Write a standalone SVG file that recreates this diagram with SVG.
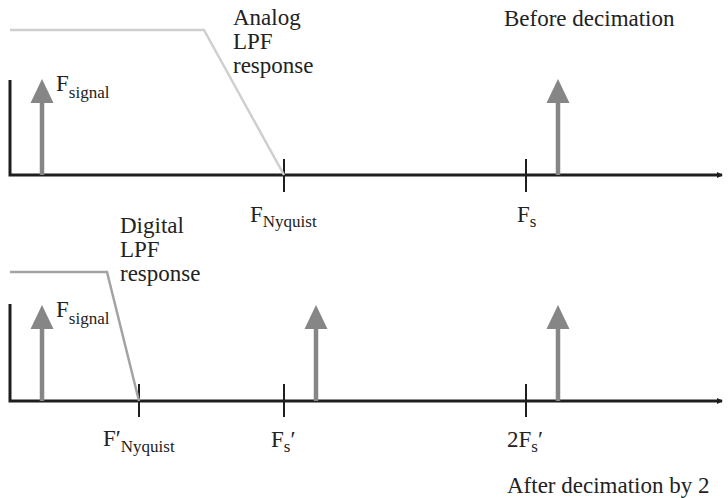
<svg xmlns="http://www.w3.org/2000/svg" width="728" height="498" viewBox="0 0 728 498">
  <defs>
    <marker id="axisHead" markerWidth="6" markerHeight="6" refX="5" refY="3" orient="auto" markerUnits="userSpaceOnUse">
      <path d="M0,0 L6,3 L0,6 Z" fill="#1e1e1e"/>
    </marker>
    <style>
      .axis { stroke: #1e1e1e; stroke-width: 3; fill: none; }
      .tick { stroke: #1e1e1e; stroke-width: 2; }
      .shaft { stroke: #868686; stroke-width: 4.5; }
      .head { fill: #868686; }
      .lpf-analog { stroke: #cfcfcf; stroke-width: 2.5; fill: none; }
      .lpf-digital { stroke: #a3a3a3; stroke-width: 2.5; fill: none; }
      .lbl { fill: #222; font-size: 23px; }
      .sub { font-size: 17px; }
    </style>
  </defs>

  <!-- Upper spectrum: before decimation -->
  <g id="top-axes">
    <polyline class="axis" points="10,80 10,175 722,175" marker-end="url(#axisHead)"/>
    <line class="tick" x1="284" y1="159" x2="284" y2="192"/>
    <line class="tick" x1="526" y1="159" x2="526" y2="192"/>
  </g>
  <g id="top-lpf">
    <polyline class="lpf-analog" points="10,30 204,30 284,175"/>
  </g>
  <g id="top-signal">
    <line class="shaft" x1="42" y1="175" x2="42" y2="100"/>
    <polygon class="head" points="42,79 30.5,103 53.5,103"/>
  </g>
  <g id="top-image">
    <line class="shaft" x1="558" y1="175" x2="558" y2="100"/>
    <polygon class="head" points="558,79 546.5,103 569.5,103"/>
  </g>
  <g id="top-labels" font-family="'Liberation Serif', 'DejaVu Serif', serif">
    <text class="lbl" x="56" y="91">F<tspan class="sub" dy="7">signal</tspan></text>
    <text class="lbl" x="233" y="25">Analog</text>
    <text class="lbl" x="233" y="49">LPF</text>
    <text class="lbl" x="233" y="73">response</text>
    <text class="lbl" x="504" y="26">Before decimation</text>
    <text class="lbl" x="250" y="222">F<tspan class="sub" dy="5">Nyquist</tspan></text>
    <text class="lbl" x="517" y="222">F<tspan class="sub" dy="5">s</tspan></text>
  </g>

  <!-- Lower spectrum: after decimation by 2 -->
  <g id="bottom-axes">
    <polyline class="axis" points="10,304 10,401 722,401" marker-end="url(#axisHead)"/>
    <line class="tick" x1="139" y1="384" x2="139" y2="417"/>
    <line class="tick" x1="284" y1="384" x2="284" y2="417"/>
    <line class="tick" x1="526" y1="384" x2="526" y2="417"/>
  </g>
  <g id="bottom-lpf">
    <polyline class="lpf-digital" points="10,272 107,272 139,401"/>
  </g>
  <g id="bottom-signal">
    <line class="shaft" x1="42" y1="401" x2="42" y2="326"/>
    <polygon class="head" points="42,305 30.5,329 53.5,329"/>
  </g>
  <g id="bottom-image-1">
    <line class="shaft" x1="316" y1="401" x2="316" y2="326"/>
    <polygon class="head" points="316,305 304.5,329 327.5,329"/>
  </g>
  <g id="bottom-image-2">
    <line class="shaft" x1="558" y1="401" x2="558" y2="326"/>
    <polygon class="head" points="558,305 546.5,329 569.5,329"/>
  </g>
  <g id="bottom-labels" font-family="'Liberation Serif', 'DejaVu Serif', serif">
    <text class="lbl" x="56" y="317">F<tspan class="sub" dy="7">signal</tspan></text>
    <text class="lbl" x="120" y="233">Digital</text>
    <text class="lbl" x="120" y="257">LPF</text>
    <text class="lbl" x="120" y="281">response</text>
    <text class="lbl" x="103" y="446">F′<tspan class="sub" dy="6">Nyquist</tspan></text>
    <text class="lbl" x="271" y="447">F<tspan class="sub" dy="5">s</tspan><tspan dy="-5">′</tspan></text>
    <text class="lbl" x="507" y="447">2F<tspan class="sub" dy="5">s</tspan><tspan dy="-5">′</tspan></text>
    <text class="lbl" x="507" y="493">After decimation by 2</text>
  </g>
</svg>
